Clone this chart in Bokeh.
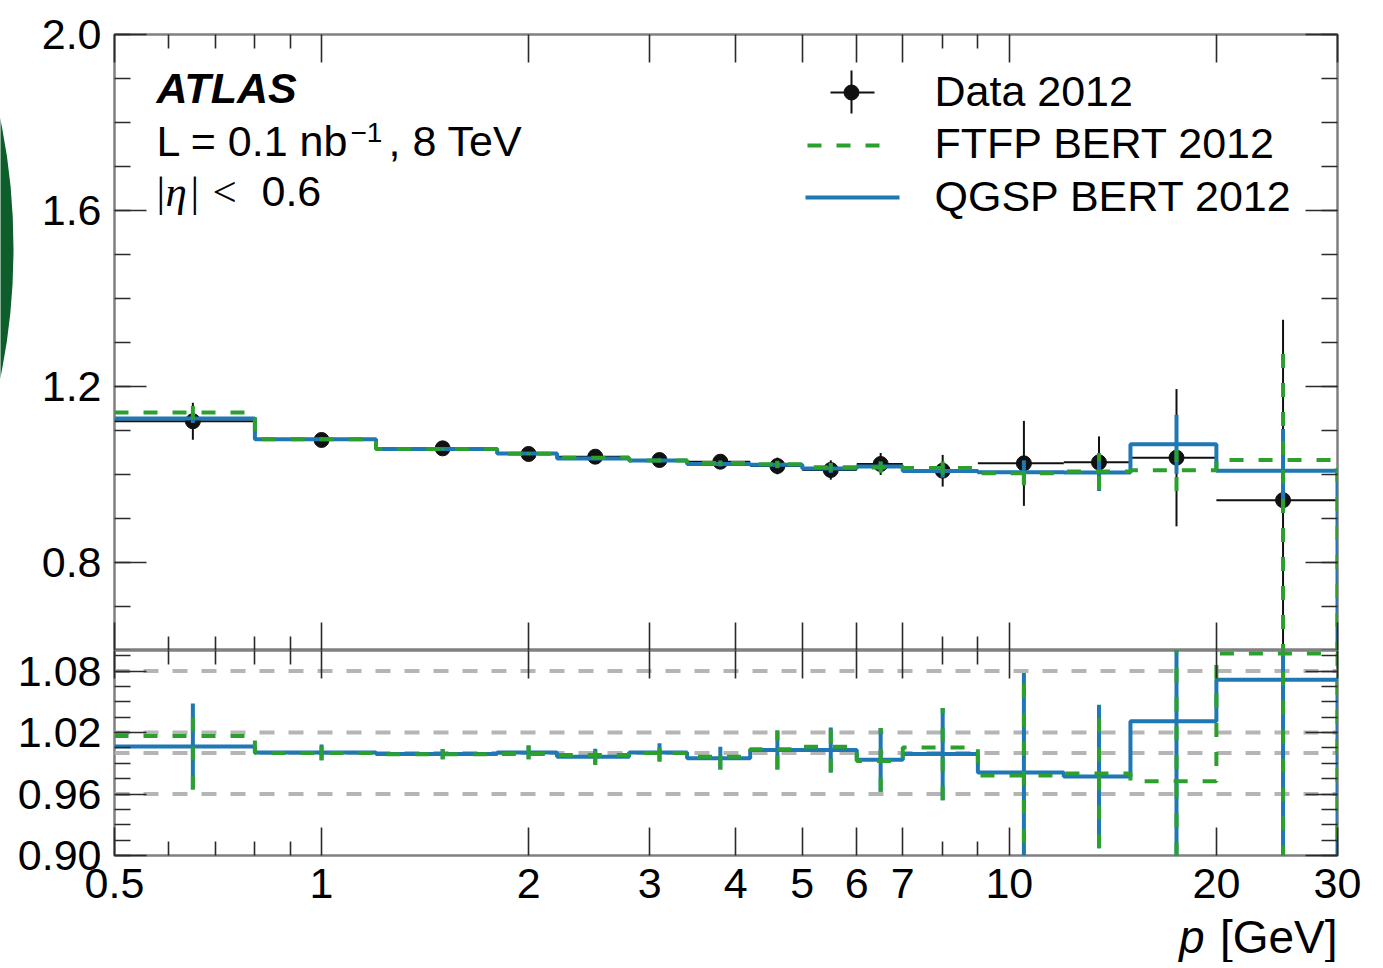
from bokeh.plotting import figure
from bokeh.layouts import column, row
from bokeh.models import (Range1d, LinearScale, LogAxis, LinearAxis, FixedTicker,
                          CustomJSTickFormatter, Label, Span)
from bokeh.core.properties import value
from bokeh.embed import file_html
from bokeh.resources import INLINE

# ---------------- data ----------------
bin_edges = [0.5, 0.8, 1.2, 1.8, 2.2, 2.8, 3.4, 4.2, 5.0, 6.0, 7.0, 9.0, 12.0, 15.0, 20.0, 30.0]
bin_centers = [0.65, 1.0, 1.5, 2.0, 2.5, 3.1, 3.8, 4.6, 5.5, 6.5, 8.0, 10.5, 13.5, 17.5, 25.0]

data_2012 = [1.121, 1.0785, 1.0594, 1.0466, 1.0405, 1.0329, 1.0291, 1.0194, 1.0102,
             1.0239, 1.0086, 1.0253, 1.0276, 1.0382, 0.9417]
data_err = [0.042, 0.008, 0.005, 0.007, 0.008, 0.009, 0.011, 0.019, 0.022,
            0.025, 0.036, 0.0965, 0.059, 0.156, 0.41]

qgsp_2012 = [1.1271, 1.080, 1.058, 1.048, 1.0366, 1.032, 1.024, 1.0222, 1.0136,
             1.018, 1.0078, 1.0052, 1.0045, 1.0686, 1.0086]
qgsp_err = [0.010, 0.004, 0.003, 0.003, 0.004, 0.004, 0.006, 0.008, 0.010,
            0.012, 0.015, 0.027, 0.042, 0.067, 0.095]

ftfp_2012 = [1.1407, 1.080, 1.058, 1.047, 1.038, 1.032, 1.026, 1.0232, 1.0163,
             1.016, 1.0146, 1.0028, 1.007, 1.0095, 1.0330]
ftfp_err_dn = [0.015, 0.004, 0.003, 0.003, 0.004, 0.004, 0.006, 0.008, 0.010,
               0.012, 0.015, 0.027, 0.042, 0.047, 0.45]
ftfp_err_up = [0.015, 0.004, 0.003, 0.003, 0.004, 0.004, 0.006, 0.008, 0.010,
               0.012, 0.015, 0.027, 0.042, 0.047, 0.245]

ratio_qgsp = [1.0063, 1.0006, 0.999, 1.0006, 0.9963, 1.0006, 0.995, 1.003, 1.003,
              0.9933, 0.9990, 0.981, 0.977, 1.031, 1.0715]
ratio_ftfp = [1.0166, 1.000, 0.9987, 0.999, 0.998, 1.000, 0.9963, 1.0037, 1.006,
              0.9923, 1.0054, 0.978, 0.980, 0.9724, 1.097]
ratio_err = [0.042, 0.0077, 0.005, 0.0067, 0.0078, 0.009, 0.011, 0.019, 0.022,
             0.031, 0.045, 0.097, 0.070, 0.16, 0.43]

ratio_ref_lines = [1.08, 1.02, 1.00, 0.96]

x_major_ticks = [0.5, 1, 2, 3, 4, 5, 6, 7, 10, 20, 30]
x_minor_ticks = [0.6, 0.7, 0.8, 0.9, 8, 9]
top_y_major = [0.8, 1.2, 1.6, 2.0]
top_y_minor = [0.6, 0.7, 0.8, 0.9, 1.0, 1.1, 1.2, 1.3, 1.4, 1.5, 1.6, 1.7, 1.8, 1.9, 2.0]
ratio_y_major = [0.90, 0.96, 1.02, 1.08]
ratio_y_minor = [0.9, 0.915, 0.93, 0.945, 0.96, 0.975, 0.99, 1.005, 1.02, 1.035,
                 1.05, 1.065, 1.08, 1.095]

# ---------------- style ----------------
FONT = "Liberation Sans"
FS = "43px"
BLUE = "#1f77b4"
GREEN = "#2ca02c"
FRAME = "#808080"
TICK = "#2a2a2a"
FW, FH_TOP, FH_RAT = 1223, 616, 205
STRIP = 14            # width of the strip at the very left of the page
LEFT = 113 - STRIP    # left border of the main panels
RIGHT = 40
RAT_BOTTOM = 62
TH = 45               # height of the strip holding the axis title
DASH = "14 15"
DY = 16               # baseline correction for 43px labels


def step_outline(edges, vals, floor):
    xs, ys = [], []
    for i, v in enumerate(vals):
        xs += [edges[i], edges[i + 1]]
        ys += [v, v]
    xs.append(edges[-1])
    ys.append(floor)
    return xs, ys


def make_axis(kind, ticks, minor, fmt, labels, tick_major, tick_minor, standoff=10):
    if kind == "log":
        ax = LogAxis(ticker=FixedTicker(ticks=ticks, minor_ticks=minor))
    else:
        ax = LinearAxis(ticker=FixedTicker(ticks=ticks, minor_ticks=minor))
    ax.axis_line_color = None
    ax.major_tick_in = tick_major
    ax.major_tick_out = 0
    ax.minor_tick_in = tick_minor
    ax.minor_tick_out = 0
    ax.major_tick_line_color = TICK
    ax.minor_tick_line_color = TICK
    ax.major_tick_line_width = 1.6
    ax.minor_tick_line_width = 1.6
    ax.formatter = CustomJSTickFormatter(code=fmt)
    if labels:
        ax.major_label_text_font = FONT
        ax.major_label_text_font_size = FS
        ax.major_label_text_color = "black"
        ax.major_label_standoff = standoff
    else:
        ax.major_label_text_font_size = "0px"
        ax.major_label_standoff = 0
    return ax


def base_fig(y_range, fh, border_top, border_bottom):
    p = figure(x_axis_type="log", x_range=Range1d(0.5, 30), y_range=y_range,
               frame_width=FW, frame_height=fh, output_backend="svg",
               toolbar_location=None, x_axis_location=None, y_axis_location=None,
               min_border_left=LEFT, min_border_right=RIGHT,
               min_border_top=border_top, min_border_bottom=border_bottom)
    p.grid.visible = False
    p.outline_line_color = FRAME
    p.outline_line_width = 2.5
    p.background_fill_color = "white"
    p.border_fill_color = "white"
    p.extra_x_ranges = {"px": Range1d(0, FW)}
    p.extra_x_scales = {"px": LinearScale()}
    p.extra_y_ranges = {"px": Range1d(0, fh)}
    p.extra_y_scales = {"px": LinearScale()}
    return p


def txt(p, x, y, text, size=FS, font=FONT, style="normal", align="left"):
    p.add_layout(Label(x=x, y=y, text=text, text_font=font, text_font_size=size,
                       text_font_style=style, text_align=align,
                       text_baseline="alphabetic", text_color="black",
                       x_range_name="px", y_range_name="px"))


# ---------------- top panel ----------------
p1 = base_fig(Range1d(0.6, 2.0), FH_TOP, 34, 0)
p1.add_layout(make_axis("lin", top_y_major, top_y_minor, "return tick.toFixed(1);", True, 32, 16, 13), "left")
p1.add_layout(make_axis("lin", top_y_major, top_y_minor, "return '';", False, 32, 16), "right")
p1.add_layout(make_axis("log", x_major_ticks, x_minor_ticks, "return '';", False, 28, 14), "below")
p1.add_layout(make_axis("log", x_major_ticks, x_minor_ticks, "return '';", False, 28, 14), "above")

lo_edges = bin_edges[:-1]
hi_edges = bin_edges[1:]

# data
p1.segment(x0=lo_edges, y0=data_2012, x1=hi_edges, y1=data_2012, line_color="#111111", line_width=2)
p1.segment(x0=bin_centers, y0=[v - e for v, e in zip(data_2012, data_err)],
           x1=bin_centers, y1=[v + e for v, e in zip(data_2012, data_err)],
           line_color="#111111", line_width=2)
p1.scatter(bin_centers, data_2012, size=15, color="#111111")

# QGSP
qx, qy = step_outline(bin_edges, qgsp_2012, 0.0)
p1.line(qx, qy, line_color=BLUE, line_width=4)
p1.segment(x0=bin_centers, y0=[v - e for v, e in zip(qgsp_2012, qgsp_err)],
           x1=bin_centers, y1=[v + e for v, e in zip(qgsp_2012, qgsp_err)],
           line_color=BLUE, line_width=4)
# FTFP
fx, fy = step_outline(bin_edges, ftfp_2012, 0.0)
p1.line(fx, fy, line_color=GREEN, line_width=4, line_dash=DASH)
p1.segment(x0=bin_centers, y0=[v - e for v, e in zip(ftfp_2012, ftfp_err_dn)],
           x1=bin_centers, y1=[v + e for v, e in zip(ftfp_2012, ftfp_err_up)],
           line_color=GREEN, line_width=4, line_dash=DASH)

# texts (frame pixel coordinates, y upwards from the frame bottom)
txt(p1, 42, 546.7 + DY, "ATLAS", style="bold italic")
txt(p1, 42, 493.3 + DY, "L = 0.1 nb")
txt(p1, 236, 508.3 + 10, "\u22121", size="28px")
txt(p1, 274, 493.3 + DY, ", 8 TeV")
txt(p1, 42, 443 + DY, "|", font="Liberation Serif")
txt(p1, 51, 443 + DY, "\u03b7", font="Liberation Serif", style="italic")
txt(p1, 76, 443 + DY, "|", font="Liberation Serif")
txt(p1, 98, 443 + DY, "<", font="Liberation Serif")
txt(p1, 147, 443 + DY, "0.6")

# legend
p1.segment(x0=[716], y0=[558], x1=[760], y1=[558], line_color="#111111", line_width=2,
           x_range_name="px", y_range_name="px")
p1.segment(x0=[737], y0=[537], x1=[737], y1=[580], line_color="#111111", line_width=2,
           x_range_name="px", y_range_name="px")
p1.scatter([737], [558], size=15, color="#111111", x_range_name="px", y_range_name="px")
p1.line([693, 768], [505, 505], line_color=GREEN, line_width=4, line_dash=DASH,
        x_range_name="px", y_range_name="px")
p1.line([691, 785], [453, 453], line_color=BLUE, line_width=4,
        x_range_name="px", y_range_name="px")
txt(p1, 820, 543.3 + DY, "Data 2012")
txt(p1, 820, 491.7 + DY, "FTFP BERT 2012")
txt(p1, 820, 438.3 + DY, "QGSP BERT 2012")

# ---------------- ratio panel ----------------
p2 = base_fig(Range1d(0.90, 1.10), FH_RAT, 0, RAT_BOTTOM)
p2.add_layout(make_axis("lin", ratio_y_major, ratio_y_minor, "return tick.toFixed(2);", True, 32, 16, 13), "left")
p2.add_layout(make_axis("lin", ratio_y_major, ratio_y_minor, "return '';", False, 32, 16), "right")
p2.add_layout(make_axis("log", x_major_ticks, x_minor_ticks, "return String(tick);", True, 28, 14, 13), "below")
p2.add_layout(make_axis("log", x_major_ticks, x_minor_ticks, "return '';", False, 28, 14), "above")

for v in ratio_ref_lines:
    p2.add_layout(Span(location=v, dimension="width", line_color="#b5b5b5", line_width=4,
                       line_dash="15 14", level="underlay"))

rqx, rqy = step_outline(bin_edges, ratio_qgsp, 0.0)
p2.line(rqx, rqy, line_color=BLUE, line_width=4)
r_lo = [v - e for v, e in zip(ratio_qgsp, ratio_err)]
r_hi = [v + e for v, e in zip(ratio_qgsp, ratio_err)]
p2.segment(x0=bin_centers, y0=r_lo, x1=bin_centers, y1=r_hi, line_color=BLUE, line_width=4)
rfx, rfy = step_outline(bin_edges, ratio_ftfp, 0.0)
p2.line(rfx, rfy, line_color=GREEN, line_width=4, line_dash=DASH)
p2.segment(x0=bin_centers, y0=r_lo, x1=bin_centers, y1=r_hi, line_color=GREEN, line_width=4,
           line_dash=DASH)

# ---------------- strip with the axis title (page coordinates) ----------------
top3 = 34 + FH_TOP + FH_RAT + RAT_BOTTOM
p3 = figure(x_range=Range1d(113, 113 + FW), y_range=Range1d(top3 + TH, top3),
            frame_width=FW, frame_height=TH, output_backend="svg",
            toolbar_location=None, x_axis_location=None, y_axis_location=None,
            min_border_left=LEFT, min_border_right=RIGHT, min_border_top=0,
            min_border_bottom=0)
p3.grid.visible = False
p3.outline_line_color = None
p3.border_fill_color = "white"
p3.background_fill_color = "white"
p3.text(x=[1336], y=[953 - 17], text=["[GeV]"], text_align="right",
        text_baseline="alphabetic", text_font=value(FONT), text_font_size=value("46px"),
        text_color="black")
p3.text(x=[1203], y=[953 - 17], text=["p"], text_align="right",
        text_baseline="alphabetic", text_font=value(FONT), text_font_size=value("46px"),
        text_font_style="italic", text_color="black")

# ---------------- strip at the far left (dark green arc of the source page) ----------------
PH = top3 + TH
p0 = figure(x_range=Range1d(0, STRIP), y_range=Range1d(0, PH), frame_width=STRIP,
            frame_height=PH, output_backend="svg", toolbar_location=None,
            x_axis_location=None, y_axis_location=None, min_border=0)
p0.grid.visible = False
p0.outline_line_color = None
p0.ellipse(x=[-157], y=[PH - 248], width=[326], height=[654], fill_color=None,
           line_color="#0d5e2b", line_width=14)

layout = row(p0, column(p1, p2, p3, spacing=0), spacing=0)
open("out.html", "w").write(file_html(layout, INLINE))
